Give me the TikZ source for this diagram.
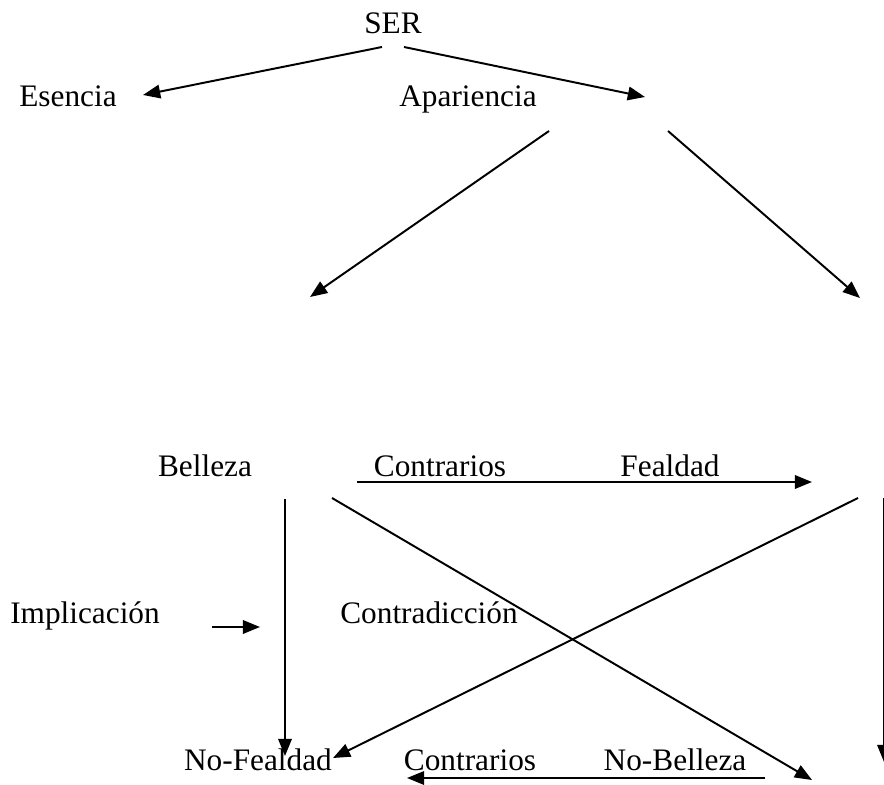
\documentclass[tikz,border=0pt]{standalone}
\usepackage{fontspec}
\setmainfont{Liberation Serif}
\usetikzlibrary{arrows.meta}

\begin{document}
\begin{tikzpicture}[
   x=0.01348cm, y=-0.01348cm,
   every node/.append style={font=\fontsize{12}{14}\selectfont, inner sep=0pt, anchor=base},
   flecha/.style={-{Triangle[length=6.6pt,width=5.2pt]}, line width=0.75pt}
]
\useasboundingbox (0,0) rectangle (884,785);
\clip (0,0) rectangle (884,785);

% textos
\node (ser) at (393,34) {SER};
\node (esencia) at (68,107) {Esencia};
\node (apariencia) at (468,107) {Apariencia};
\node (belleza) at (205,476) {Belleza};
\node (contrA) at (440,476) {Contrarios};
\node (fealdad) at (670,476) {Fealdad};
\node (implicacion) at (85,623) {Implicación};
\node (contradiccion) at (429,623) {Contradicción};
\node (nofealdad) at (258,770) {No-Fealdad};
\node (contrB) at (470,770) {Contrarios};
\node (nobelleza) at (675,770) {No-Belleza};

% extremos de las flechas
\coordinate (serL) at (382,47);
\coordinate (serR) at (404,47);
\coordinate (esenciaT) at (143,95);
\coordinate (aparienciaT) at (645,97);
\coordinate (apaL) at (549,131);
\coordinate (apaR) at (668,131);
\coordinate (apaLT) at (310,297);
\coordinate (apaRT) at (860,298);
\coordinate (contrAS) at (357,482);
\coordinate (contrAT) at (812,482);
\coordinate (bellezaV) at (285,499);
\coordinate (bellezaVT) at (285,756);
\coordinate (bellezaD) at (332,498);
\coordinate (bellezaDT) at (812,780);
\coordinate (fealdadD) at (858,498);
\coordinate (fealdadDT) at (333,758);
\coordinate (implS) at (212,627);
\coordinate (implT) at (260,627);
\coordinate (contrBS) at (765,778);
\coordinate (contrBT) at (407,778);
\coordinate (bordeS) at (884,498);
\coordinate (bordeT) at (884,762);

% flechas
\draw[flecha] (serL) -- (esenciaT);
\draw[flecha] (serR) -- (aparienciaT);
\draw[flecha] (apaL) -- (apaLT);
\draw[flecha] (apaR) -- (apaRT);
\draw[flecha] (contrAS) -- (contrAT);
\draw[flecha] (bellezaV) -- (bellezaVT);
\draw[flecha] (bellezaD) -- (bellezaDT);
\draw[flecha] (fealdadD) -- (fealdadDT);
\draw[flecha] (implS) -- (implT);
\draw[flecha] (contrBS) -- (contrBT);
\draw[flecha] (bordeS) -- (bordeT);
\end{tikzpicture}
\end{document}
